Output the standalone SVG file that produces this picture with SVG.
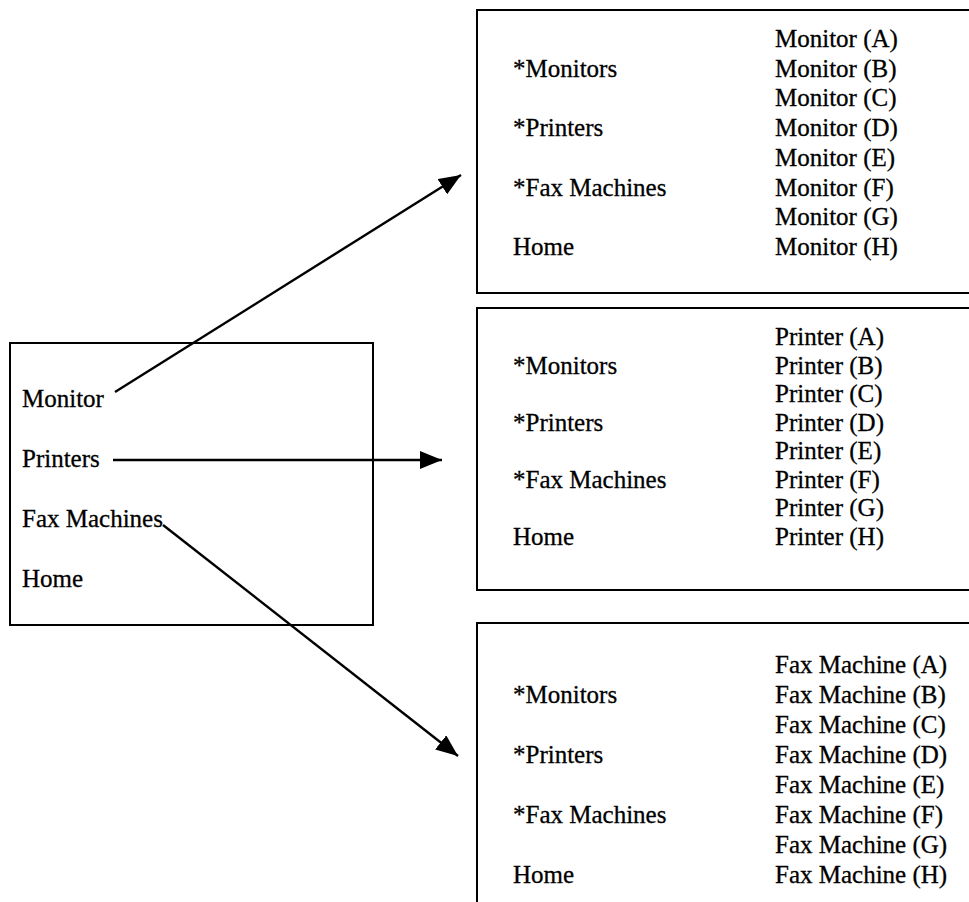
<svg xmlns="http://www.w3.org/2000/svg" width="969" height="902" viewBox="0 0 969 902">
<defs>
<style>
.t{font-family:"Liberation Serif","Times New Roman",serif;font-size:25px;fill:#000;stroke:#000;stroke-width:0.3}
.box{fill:none;stroke:#000;stroke-width:2}
.arr{stroke:#000;stroke-width:2.4;fill:none;marker-end:url(#ah)}
</style>
<marker id="ah" viewBox="0 0 22 18" refX="22" refY="9" markerWidth="22" markerHeight="18" markerUnits="userSpaceOnUse" orient="auto">
<path d="M0,0 L22,9 L0,18 Z" fill="#000"/>
</marker>
</defs>
<rect width="969" height="902" fill="#fff"/>
<g id="menu">
<rect class="box" x="10" y="343" width="363" height="282"/>
<text class="t" x="22" y="407">Monitor</text>
<text class="t" x="22" y="467">Printers</text>
<text class="t" x="22" y="527">Fax Machines</text>
<text class="t" x="22" y="587">Home</text>
</g>
<g id="monitors">
<path class="box" d="M969,10 H477 V293 H969"/>
<text class="t" x="513" y="77">*Monitors</text>
<text class="t" x="513" y="136">*Printers</text>
<text class="t" x="513" y="196">*Fax Machines</text>
<text class="t" x="513" y="255">Home</text>
<text class="t" x="775" y="47">Monitor (A)</text>
<text class="t" x="775" y="77">Monitor (B)</text>
<text class="t" x="775" y="106">Monitor (C)</text>
<text class="t" x="775" y="136">Monitor (D)</text>
<text class="t" x="775" y="166">Monitor (E)</text>
<text class="t" x="775" y="196">Monitor (F)</text>
<text class="t" x="775" y="225">Monitor (G)</text>
<text class="t" x="775" y="255">Monitor (H)</text>
</g>
<g id="printers">
<path class="box" d="M969,308 H477 V590 H969"/>
<text class="t" x="513" y="374">*Monitors</text>
<text class="t" x="513" y="431">*Printers</text>
<text class="t" x="513" y="488">*Fax Machines</text>
<text class="t" x="513" y="545">Home</text>
<text class="t" x="775" y="345">Printer (A)</text>
<text class="t" x="775" y="374">Printer (B)</text>
<text class="t" x="775" y="402">Printer (C)</text>
<text class="t" x="775" y="431">Printer (D)</text>
<text class="t" x="775" y="459">Printer (E)</text>
<text class="t" x="775" y="488">Printer (F)</text>
<text class="t" x="775" y="516">Printer (G)</text>
<text class="t" x="775" y="545">Printer (H)</text>
</g>
<g id="faxes">
<path class="box" d="M969,623 H477 V902"/>
<text class="t" x="513" y="703">*Monitors</text>
<text class="t" x="513" y="763">*Printers</text>
<text class="t" x="513" y="823">*Fax Machines</text>
<text class="t" x="513" y="883">Home</text>
<text class="t" x="775" y="673">Fax Machine (A)</text>
<text class="t" x="775" y="703">Fax Machine (B)</text>
<text class="t" x="775" y="733">Fax Machine (C)</text>
<text class="t" x="775" y="763">Fax Machine (D)</text>
<text class="t" x="775" y="793">Fax Machine (E)</text>
<text class="t" x="775" y="823">Fax Machine (F)</text>
<text class="t" x="775" y="853">Fax Machine (G)</text>
<text class="t" x="775" y="883">Fax Machine (H)</text>
</g>
<g id="connectors">
<line class="arr" x1="115" y1="392" x2="461" y2="175"/>
<line class="arr" x1="113" y1="460" x2="442" y2="460"/>
<line class="arr" x1="163" y1="525" x2="458" y2="756"/>
</g>
</svg>
